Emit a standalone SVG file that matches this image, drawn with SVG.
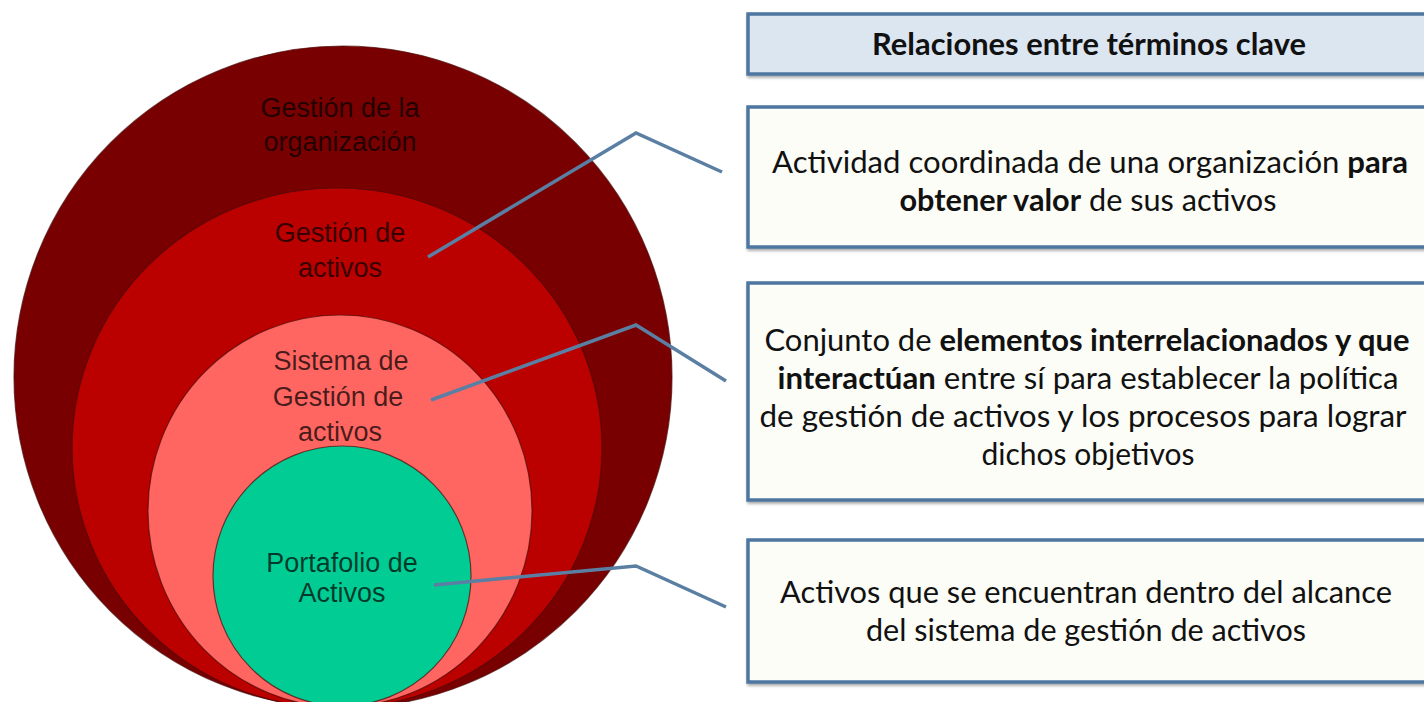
<svg xmlns="http://www.w3.org/2000/svg" width="1424" height="702" viewBox="0 0 1424 702">
<defs>
<style>
.ring{stroke:#4a0a0a;stroke-width:1.2;stroke-opacity:0.7}
.lbl{font-family:"Liberation Sans",Arial,sans-serif;font-size:27px;fill:#000;fill-opacity:0.72;text-anchor:middle}
.box{stroke:#4d76a0;stroke-width:3.5}
.txt{font-family:Lato,"Open Sans",sans-serif;font-size:30px;fill:#111;text-anchor:middle}
.b{font-weight:bold}
.con{fill:none;stroke:#5a7fa3;stroke-width:3.5;stroke-linejoin:miter}
</style>
<filter id="sh" x="-5%" y="-10%" width="110%" height="130%">
<feDropShadow dx="1" dy="2" stdDeviation="1.5" flood-color="#000" flood-opacity="0.35"/>
</filter>
</defs>
<rect width="1424" height="702" fill="#fff"/>

<g id="org">
<ellipse class="ring" cx="343" cy="377" rx="329" ry="331" fill="#790000"/>
<text class="lbl" x="340" y="117">Gestión de la</text>
<text class="lbl" x="340" y="151">organización</text>
</g>
<g id="ga">
<ellipse class="ring" cx="337" cy="448" rx="265" ry="260" fill="#bb0000"/>
<text class="lbl" x="340" y="242">Gestión de</text>
<text class="lbl" x="340" y="277">activos</text>
</g>
<g id="sga">
<ellipse class="ring" cx="340" cy="511" rx="192" ry="196" fill="#ff6662"/>
<text class="lbl" x="341" y="370">Sistema de</text>
<text class="lbl" x="338" y="406">Gestión de</text>
<text class="lbl" x="340" y="441">activos</text>
</g>
<g id="pa">
<ellipse class="ring" cx="342" cy="576" rx="129" ry="130" fill="#00cc94"/>
<text class="lbl" x="342" y="572">Portafolio de</text>
<text class="lbl" x="342" y="602">Activos</text>
</g>

<g id="connectors">
<polyline class="con" points="428,257 636,133 722,172"/>
<polyline class="con" points="431,400 636,325 726,381"/>
<polyline class="con" points="434,585 636,566 726,607"/>
</g>

<g id="header">
<rect class="box" x="748" y="14" width="690" height="60" fill="#dce6f1" filter="url(#sh)"/>
<text class="txt b" x="1089" y="55" textLength="434" lengthAdjust="spacingAndGlyphs">Relaciones entre términos clave</text>
</g>
<g id="def1">
<rect class="box" x="748" y="107" width="690" height="140" fill="#fdfdf7" filter="url(#sh)"/>
<text class="txt" x="1090" y="173" textLength="636" lengthAdjust="spacingAndGlyphs">Actividad coordinada de una organización <tspan class="b">para</tspan></text>
<text class="txt" x="1088" y="211" textLength="377" lengthAdjust="spacingAndGlyphs"><tspan class="b">obtener valor</tspan> de sus activos</text>
</g>
<g id="def2">
<rect class="box" x="748" y="283" width="690" height="217" fill="#fdfdf7" filter="url(#sh)"/>
<text class="txt" x="1087" y="351" textLength="645" lengthAdjust="spacingAndGlyphs">Conjunto de <tspan class="b">elementos interrelacionados y que</tspan></text>
<text class="txt" x="1088" y="389" textLength="621" lengthAdjust="spacingAndGlyphs"><tspan class="b">interactúan</tspan> entre sí para establecer la política</text>
<text class="txt" x="1083" y="427" textLength="647" lengthAdjust="spacingAndGlyphs">de gestión de activos y los procesos para lograr</text>
<text class="txt" x="1088" y="465">dichos objetivos</text>
</g>
<g id="def3">
<rect class="box" x="748" y="540" width="690" height="142" fill="#fdfdf7" filter="url(#sh)"/>
<text class="txt" x="1086" y="603" textLength="612" lengthAdjust="spacingAndGlyphs">Activos que se encuentran dentro del alcance</text>
<text class="txt" x="1086" y="641" textLength="440" lengthAdjust="spacingAndGlyphs">del sistema de gestión de activos</text>
</g>
</svg>
